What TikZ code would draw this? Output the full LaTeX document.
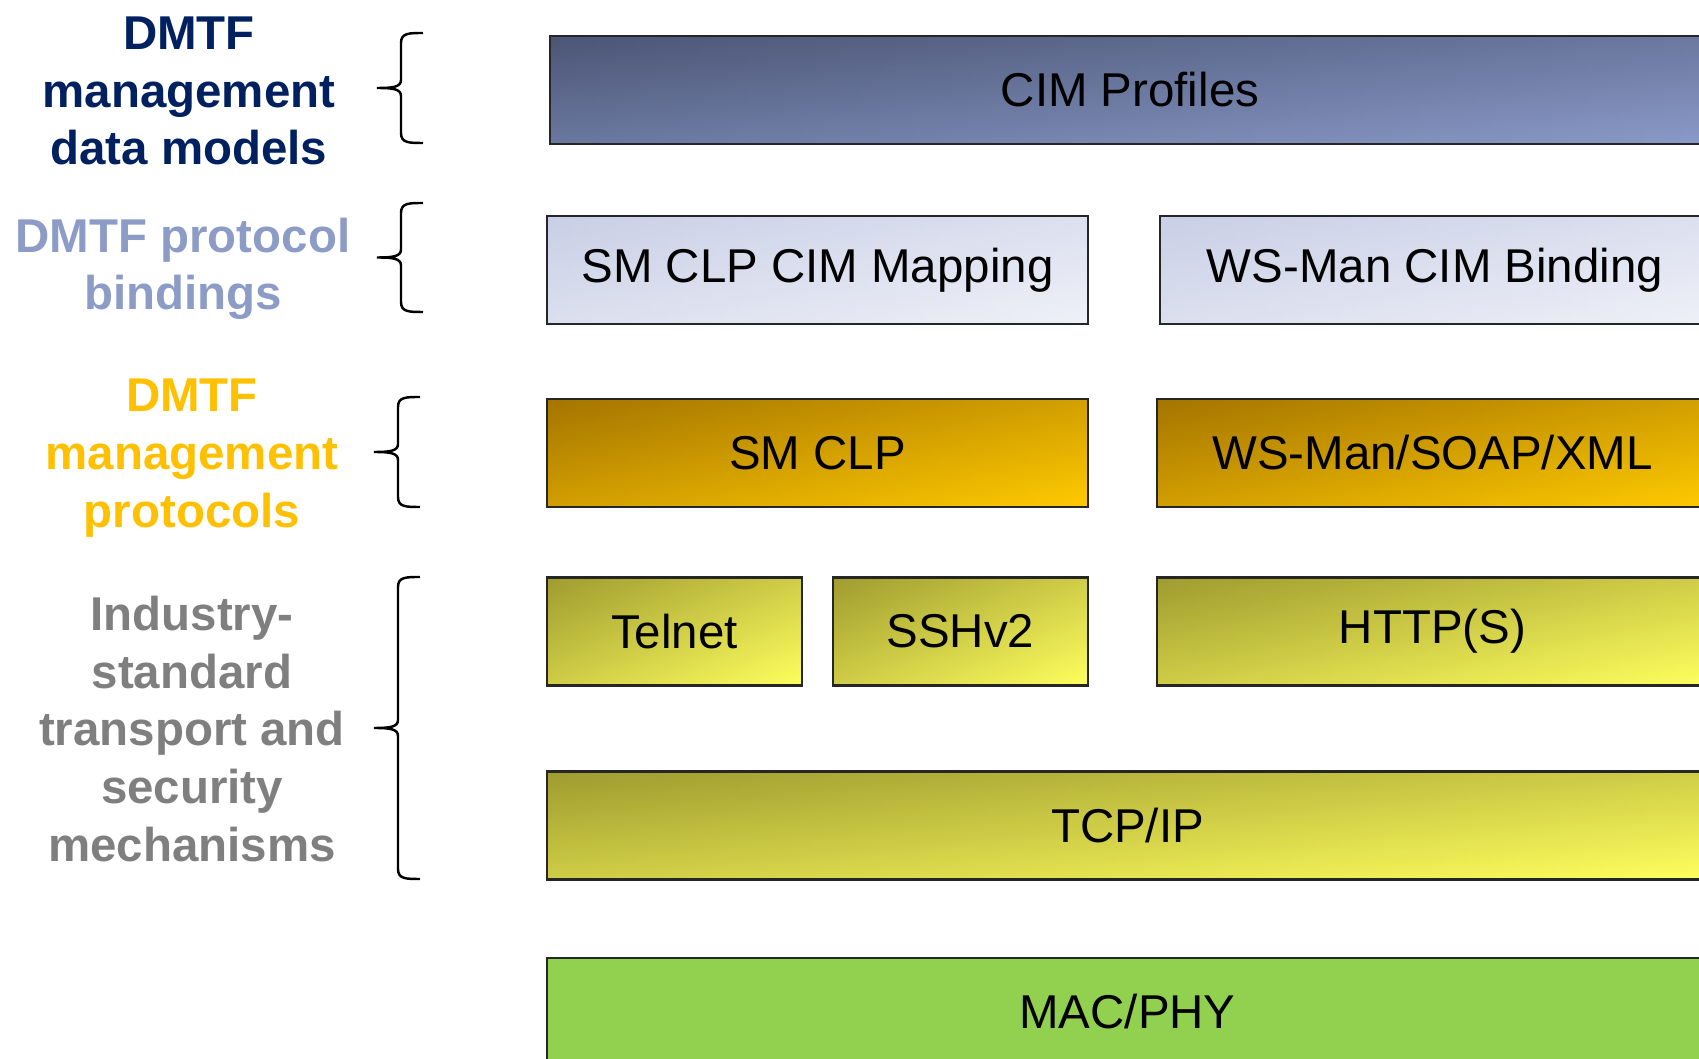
\documentclass[tikz,border=0pt]{standalone}
\usepackage{fontspec}
\setmainfont{Liberation Sans}
\usepackage{xcolor}
\usepackage{tikz}

\definecolor{navy}{HTML}{002060}
\definecolor{bindblue}{HTML}{8D9CC7}
\definecolor{gold}{HTML}{FFC000}
\definecolor{greytext}{HTML}{7F7F7F}
\definecolor{cimdark}{HTML}{4C5676}
\definecolor{cimlight}{HTML}{8A9AC8}
\definecolor{binddark}{HTML}{C9CFE6}
\definecolor{bindlight}{HTML}{EFF1F8}
\definecolor{protodark}{HTML}{A57500}
\definecolor{protolight}{HTML}{FFCA00}
\definecolor{transdark}{HTML}{A09C30}
\definecolor{translight}{HTML}{FFFF5E}
\definecolor{macgreen}{HTML}{92D050}

\begin{document}
\begin{tikzpicture}[
  layer/.style={draw=black!85, line width=0.6pt, inner sep=0pt,
    minimum height=1.08cm, font=\fontsize{13.5}{16}\selectfont},
  layer shade/.style 2 args={top color=#1, bottom color=#2,
    path picture={\shade[left color=#1, right color=#2, fill opacity=0.5]
      (path picture bounding box.south west) rectangle (path picture bounding box.north east);}},
  model/.style={layer, layer shade={cimdark}{cimlight}},
  binding/.style={layer, layer shade={binddark}{bindlight}},
  protocol/.style={layer, layer shade={protodark}{protolight}},
  transport/.style={layer, layer shade={transdark}{translight}},
  link/.style={layer, fill=macgreen},
  group label/.style={align=center, font=\fontsize{13.5}{16.4}\selectfont\bfseries},
  pics/grp/.style={code={
    \draw[line width=0.7pt] (0,0) .. controls (-0.14,0) and (-0.22,0) .. (-0.22,-0.1)
      -- (-0.22,-#1/2+0.08) .. controls (-0.22,-#1/2+0.01) and (-0.3,-#1/2) .. (-0.46,-#1/2)
      .. controls (-0.3,-#1/2) and (-0.22,-#1/2-0.01) .. (-0.22,-#1/2-0.08)
      -- (-0.22,-#1+0.1) .. controls (-0.22,-#1) and (-0.14,-#1) .. (0,-#1);
  }}
]
\useasboundingbox (0,0) rectangle (16.99,10.59);
\clip (0,0) rectangle (16.99,10.59);

\node[model, minimum width=11.6cm] (profiles) at (11.3,9.69) {CIM Profiles};

\node[binding, minimum width=5.41cm] (clpmap) at (8.175,7.89) {SM CLP CIM Mapping};
\node[binding, minimum width=5.5cm] (wsbind) at (14.35,7.89) {WS-Man CIM Binding};

\node[protocol, minimum width=5.41cm] (smclp) at (8.175,6.06) {SM CLP};
\node[protocol, minimum width=5.51cm] (wsman) at (14.325,6.06) {WS-Man/SOAP/XML};

\node[transport, minimum width=2.55cm] (telnet) at (6.745,4.275) {Telnet};
\node[transport, minimum width=2.55cm] (ssh) at (9.605,4.275) {SSHv2};
\node[transport, minimum width=5.51cm] (http) at (14.325,4.275) {HTTP(S)};
\node[transport, minimum width=11.61cm] (tcpip) at (11.275,2.335) {TCP/IP};

\node[link, minimum width=11.61cm] (macphy) at (11.275,0.47) {MAC/PHY};

\node[group label, text=navy] (lmodels) at (1.89,9.68) {DMTF\\management\\data models};
\node[group label, text=bindblue] (lbindings) at (1.83,7.90) {DMTF protocol\\bindings};
\node[group label, text=gold] (lprotocols) at (1.92,6.01) {DMTF\\management\\protocols};
\node[group label, text=greytext] (ltransport) at (1.92,3.3)
  {Industry-\\standard\\transport and\\security\\mechanisms};

\pic at (4.23,10.26) {grp=1.10};
\pic at (4.23,8.56) {grp=1.09};
\pic at (4.2,6.62) {grp=1.10};
\pic at (4.2,4.82) {grp=3.02};
\end{tikzpicture}
\end{document}
